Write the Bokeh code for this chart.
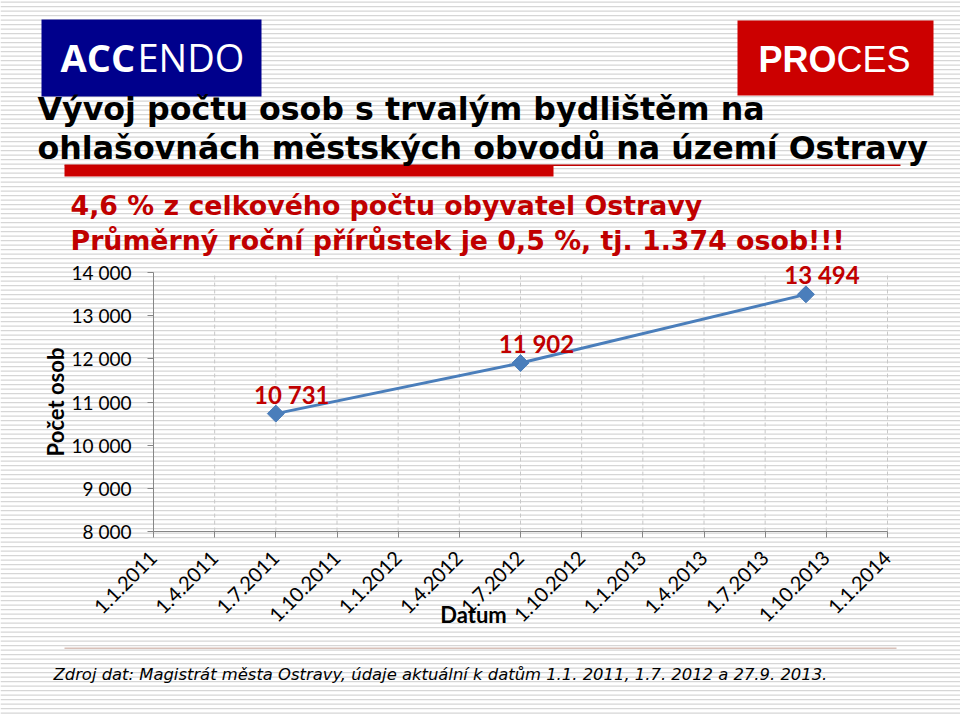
import math
from bokeh.plotting import figure
from bokeh.models import Range1d, FixedTicker, Label, LabelSet, ColumnDataSource, LinearAxis
from bokeh.embed import file_html
from bokeh.resources import INLINE
from bokeh.core.properties import value

# ---------------- data ----------------
dates = ["1.7.2011", "1.7.2012", "27.9.2013"]
persons = [10731, 11902, 13494]
value_labels = ["10 731", "11 902", "13 494"]
x_tick_labels = ["1.1.2011", "1.4.2011", "1.7.2011", "1.10.2011", "1.1.2012", "1.4.2012",
                 "1.7.2012", "1.10.2012", "1.1.2013", "1.4.2013", "1.7.2013", "1.10.2013", "1.1.2014"]
y_ticks = [8000, 9000, 10000, 11000, 12000, 13000, 14000]
y_tick_labels = ["8 000", "9 000", "10 000", "11 000", "12 000", "13 000", "14 000"]

title_lines = ["Vývoj počtu osob s trvalým bydlištěm na",
               "ohlašovnách městských obvodů na území Ostravy"]
subtitle_lines = ["4,6 % z celkového počtu obyvatel Ostravy",
                  "Průměrný roční přírůstek je 0,5 %, tj. 1.374 osob!!!"]
source_text = "Zdroj dat: Magistrát města Ostravy, údaje aktuální k datům 1.1. 2011, 1.7. 2012 a 27.9. 2013."
y_title = "Počet osob"
x_title = "Datum"


def month_index(d):
    day, month, year = (int(s) for s in d.split("."))
    return (year - 2011) * 12 + (month - 1)


x_pos = [month_index(d) for d in dates]
x_ticks = [month_index(t) for t in x_tick_labels]

# ---------------- layout ----------------
W, H = 960, 717
FL, FR, FT, FB = 153, 887, 272, 531   # pixel box of the chart area

ppx = (FR - FL) / (x_ticks[-1] - x_ticks[0])
ppy = (FB - FT) / (y_ticks[-1] - y_ticks[0])
x_range = Range1d(x_ticks[0] - FL / ppx, x_ticks[-1] + (W - FR) / ppx)
y_range = Range1d(y_ticks[0] - (H - FB) / ppy, y_ticks[-1] + FT / ppy)

p = figure(width=W, height=H, output_backend="svg", toolbar_location=None,
           x_range=x_range, y_range=y_range, x_axis_type=None, y_axis_type=None,
           min_border=0)
p.min_border_left = p.min_border_right = p.min_border_top = p.min_border_bottom = 0
p.background_fill_color = "white"
p.border_fill_color = "white"
p.outline_line_color = None
p.grid.visible = False
p.extra_x_ranges = {"px": Range1d(0, W)}
p.extra_y_ranges = {"px": Range1d(H, 0)}


def box(x1, y1, x2, y2, color, level="underlay"):
    p.quad(left=[x1], right=[x2], top=[y1], bottom=[y2], fill_color=color, line_color=None,
           x_range_name="px", y_range_name="px", level=level)


def label(x, y, text, font, size, color="black", style="normal", align="left"):
    lb = Label(x=x, y=y, x_range_name="px", y_range_name="px", text=text,
               text_font=font, text_font_size=f"{size}px", text_color=color,
               text_font_style=style, text_align=align, text_baseline="alphabetic")
    p.add_layout(lb)


# striped background
stripe_y = [i * 4.5 for i in range(int(H / 4.5) + 1)]
p.quad(left=[0] * len(stripe_y), right=[W] * len(stripe_y),
       top=[y + 1 for y in stripe_y], bottom=[y + 2.3 for y in stripe_y],
       fill_color="#d6d6d6", line_color=None, x_range_name="px", y_range_name="px", level="image")

# decorations
box(41, 19, 261, 96, "#00008C")
box(737, 20, 933, 95, "#CC0000")
box(64, 164, 900, 165.5, "#C00000")
box(64, 165, 553, 176, "#CC0000")
box(64, 647, 896, 648.5, "#D8C0B8")

# vertical dashed grid lines at the date ticks
n = len(x_ticks)
p.segment(x0=x_ticks, x1=x_ticks, y0=[y_ticks[0]] * n, y1=[y_ticks[-1]] * n,
          line_color="#c8c8c8", line_dash="4 3", line_width=1, level="underlay")

# axes
xaxis = LinearAxis(fixed_location=y_ticks[0], bounds=(x_ticks[0], x_ticks[-1]),
                   ticker=FixedTicker(ticks=x_ticks),
                   major_label_overrides={t: l for t, l in zip(x_ticks, x_tick_labels)},
                   major_label_orientation=math.pi / 4)
yaxis = LinearAxis(fixed_location=x_ticks[0], bounds=(y_ticks[0], y_ticks[-1]),
                   ticker=FixedTicker(ticks=y_ticks),
                   major_label_overrides={t: l for t, l in zip(y_ticks, y_tick_labels)},
                   axis_label=y_title)
for ax in (xaxis, yaxis):
    ax.axis_line_color = "#868686"
    ax.major_tick_line_color = "#868686"
    ax.major_tick_out = 6
    ax.major_tick_in = 0
    ax.minor_tick_line_color = None
    ax.major_label_text_font = "Lato"
    ax.major_label_text_color = "black"
xaxis.major_label_text_font_size = "20px"
yaxis.major_label_text_font_size = "19px"
xaxis.major_label_standoff = 17
yaxis.major_label_standoff = 16
yaxis.axis_label_text_font = "Lato"
yaxis.axis_label_text_font_style = "bold"
yaxis.axis_label_text_font_size = "22px"
yaxis.axis_label_text_color = "black"
yaxis.axis_label_standoff = 0
p.add_layout(xaxis, "below")
p.add_layout(yaxis, "left")

# data
src = ColumnDataSource(dict(x=x_pos, y=persons, lab=value_labels))
p.line("x", "y", source=src, line_color="#4A7EBB", line_width=3)
p.scatter("x", "y", source=src, marker="square", angle=math.pi / 4, size=12,
          fill_color="#4A7EBB", line_color="#4A7EBB")
p.add_layout(LabelSet(x="x", y="y", text="lab", source=src, x_offset=16, y_offset=10,
                      text_align="center", text_baseline="alphabetic",
                      text_font=value("Lato"), text_font_style="bold", text_font_size="24px",
                      text_color="#C00000"))

# texts (y values compensate for where the renderer puts the baseline)
label(60, 56, "ACC", "Open Sans", 38, "white", "bold")
label(137, 56, "ENDO", "Open Sans", 38, "white")
label(758, 59, "PRO", "Liberation Sans", 36, "white", "bold")
label(836, 59, "CES", "Liberation Sans", 36, "white")

label(37, 108, title_lines[0], "DejaVu Sans", 31.7, "black", "bold")
label(37, 147, title_lines[1], "DejaVu Sans", 31.7, "black", "bold")
label(70, 205, subtitle_lines[0], "DejaVu Sans", 26.8, "#C00000", "bold")
label(70, 240, subtitle_lines[1], "DejaVu Sans", 26.8, "#C00000", "bold")
label(473, 614, x_title, "Lato", 22, "black", "bold", align="center")
label(53, 674, source_text, "DejaVu Sans", 16.4, "black", "italic")

open("out.html", "w").write(file_html(p, INLINE))
